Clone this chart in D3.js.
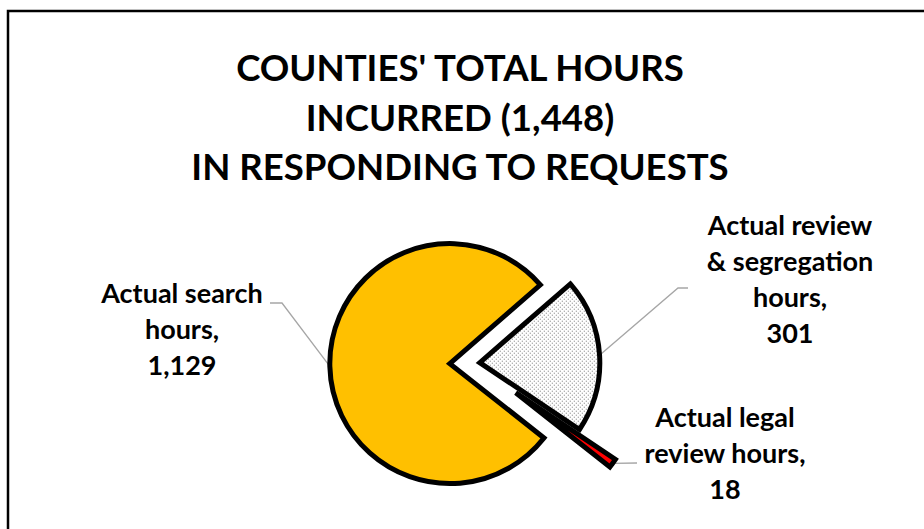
<!DOCTYPE html>
<html>
<head>
<meta charset="utf-8">
<script src="https://cdn.jsdelivr.net/npm/d3@7"></script>
<style>
  html, body { margin: 0; padding: 0; background: #fff; }
  svg { display: block; }
  text { font-family: Lato, "Open Sans", sans-serif; font-weight: 700; fill: #000; }
</style>
</head>
<body>
<svg id="chart" width="924" height="529"></svg>
<script>
// ---- data ----
const categories = ["Actual search hours", "Actual review & segregation hours", "Actual legal review hours"];
const hours = [1129, 301, 18];
const labelNameLines = [["Actual search", "hours,"], ["Actual review", "& segregation", "hours,"], ["Actual legal", "review hours,"]];
const titleLead = ["COUNTIES' TOTAL HOURS", "INCURRED"];
const titleTail = "IN RESPONDING TO REQUESTS";

// ---- styling / layout ----
const W = 924, H = 529;
const fmt = d3.format(",");
const sliceFill = ["#FFC000", "url(#dots)", "#FF0000"];
const explode = [0.21, 0.04, 0.42];          // fraction of radius each slice is pulled out
const firstSliceDeg = 128.3;                 // clockwise from 12 o'clock
const cx = 475, cy = 363, R = 120;
const labelPos = [{ x: 182, y: 303 }, { x: 790, y: 235 }, { x: 725, y: 427 }];
const labelLineH = 36;
const leaderLabelEnd = [[[270, 303], [282, 303]], [[688, 288], [678, 288]], [[637, 463]]];

const svg = d3.select("#chart");

// dotted fill
const defs = svg.append("defs");
const pat = defs.append("pattern").attr("id", "dots")
  .attr("width", 4).attr("height", 4).attr("patternUnits", "userSpaceOnUse");
pat.append("rect").attr("width", 4).attr("height", 4).attr("fill", "#fff");
pat.append("rect").attr("x", 0).attr("y", 0).attr("width", 1).attr("height", 1).attr("fill", "#737373");
pat.append("rect").attr("x", 2).attr("y", 2).attr("width", 1).attr("height", 1).attr("fill", "#737373");

// background + frame
svg.append("rect").attr("width", W).attr("height", H).attr("fill", "#fff");
svg.append("rect").attr("x", 8).attr("y", 11).attr("width", 1200).attr("height", 1200)
  .attr("fill", "none").attr("stroke", "#000").attr("stroke-width", 2.5);

// title
const total = d3.sum(hours);
const titleLines = [titleLead[0], `${titleLead[1]} (${fmt(total)})`, titleTail];
svg.append("text").attr("text-anchor", "middle").style("font-size", "36.6px")
  .selectAll("tspan").data(titleLines).join("tspan")
  .attr("x", 460).attr("y", (d, i) => 81 + i * 49.5).text(d => d);

// pie
const a0 = firstSliceDeg * Math.PI / 180;
const pie = d3.pie().sort(null).startAngle(a0).endAngle(a0 + 2 * Math.PI);
const arcs = pie(hours);
const arc = d3.arc().innerRadius(0).outerRadius(R);
const dir = a => [Math.sin(a), -Math.cos(a)];

const slices = arcs.map((d, i) => {
  const mid = (d.startAngle + d.endAngle) / 2;
  const [ux, uy] = dir(mid);
  const ox = cx + ux * explode[i] * R, oy = cy + uy * explode[i] * R;
  return { d, i, mid, ox, oy, edge: [ox + ux * R, oy + uy * R] };
});

// leader lines
const leader = d3.line();
slices.forEach(s => {
  const pts = leaderLabelEnd[s.i].concat([s.edge]);
  svg.append("path").attr("d", leader(pts))
    .attr("fill", "none").attr("stroke", "#a6a6a6").attr("stroke-width", 1.3);
});

svg.append("g").selectAll("path").data(slices).join("path")
  .attr("transform", s => `translate(${s.ox},${s.oy})`)
  .attr("d", s => arc(s.d))
  .attr("fill", s => sliceFill[s.i])
  .attr("stroke", "#000").attr("stroke-width", 5)
  .attr("stroke-linejoin", "miter");

// data labels
slices.forEach(s => {
  const lines = labelNameLines[s.i].concat([fmt(hours[s.i])]);
  svg.append("text").attr("text-anchor", "middle").style("font-size", "27px")
    .selectAll("tspan").data(lines).join("tspan")
    .attr("x", labelPos[s.i].x).attr("y", (d, k) => labelPos[s.i].y + k * labelLineH)
    .text(d => d);
});
</script>
</body>
</html>
